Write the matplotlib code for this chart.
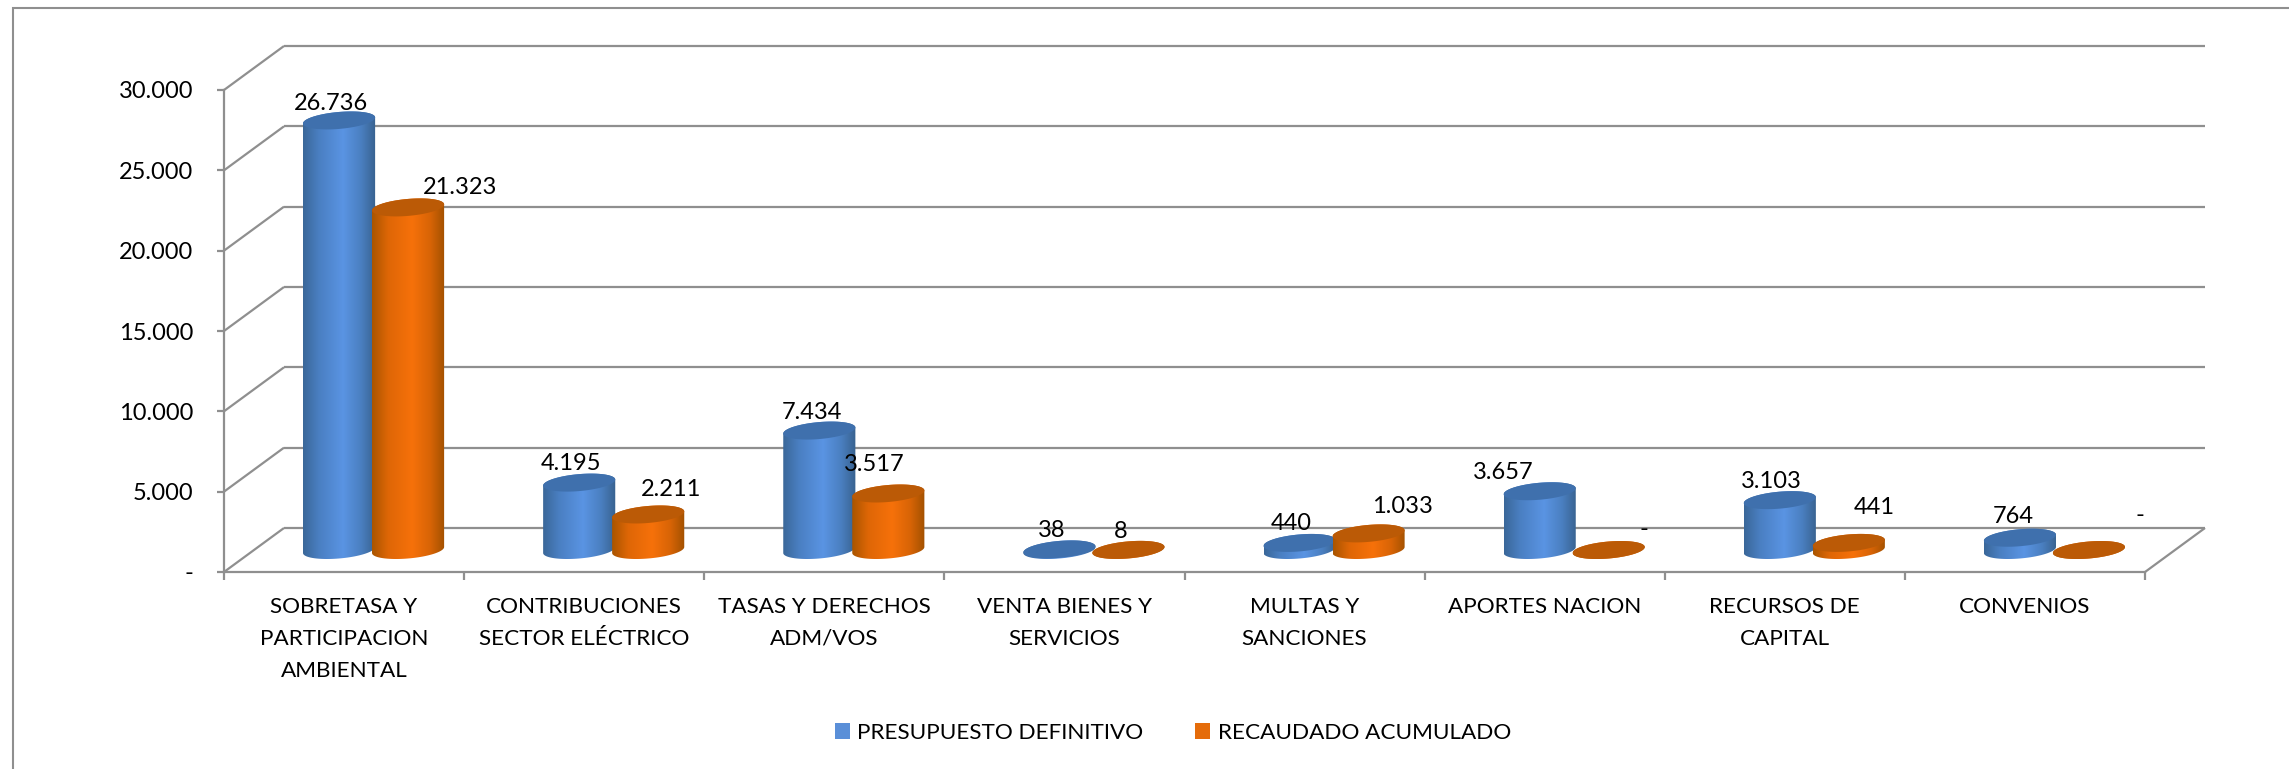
import numpy as np
import matplotlib
matplotlib.use("Agg")
import matplotlib.pyplot as plt
from matplotlib.colors import LinearSegmentedColormap
from matplotlib.patches import Patch, Polygon, Rectangle
from matplotlib.ticker import FuncFormatter

categories = [
    "SOBRETASA Y\nPARTICIPACION\nAMBIENTAL",
    "CONTRIBUCIONES\nSECTOR ELÉCTRICO",
    "TASAS Y DERECHOS\nADM/VOS",
    "VENTA BIENES Y\nSERVICIOS",
    "MULTAS Y\nSANCIONES",
    "APORTES NACION",
    "RECURSOS DE\nCAPITAL",
    "CONVENIOS",
]
presupuesto = [26736, 4195, 7434, 38, 440, 3657, 3103, 764]
recaudado = [21323, 2211, 3517, 8, 1033, 0, 441, 0]
y_ticks = [0, 5000, 10000, 15000, 20000, 25000, 30000]
series_names = ["PRESUPUESTO DEFINITIVO", "RECAUDADO ACUMULADO"]

# label displacement from the top of each cylinder, in pixels
offsets_a = [(-8, 17), (-8, 19), (-7, 18.5), (-8, 19), (-8, 19), (-36, 19), (-8, 19), (-7, 21)]
offsets_b = [(52, 20), (23, 24.5), (-14, 29), (-8, 18), (34, 27), (35, 21), (25, 35), (51, 35)]

W, H = 2289, 769
GRID = "#8F8F8F"
FONT = "Lato"
FS = 17.0
FS_CAT = 16.2
plt.rcParams["font.family"] = FONT

fig = plt.figure(figsize=(W / 100, H / 100), dpi=100, facecolor="white")
L, R, T, B = 224, 2145, 90, 572
ax = fig.add_axes([L / W, 1 - B / H, (R - L) / W, (B - T) / H])
ax.set_xlim(0, 8)
ax.set_ylim(0, 30000)
ax.set_autoscale_on(False)
ax.patch.set_alpha(0)

px_x = 8 / (R - L)       # data per pixel
px_y = 30000 / (B - T)
dep_x, dep_y = 60 * px_x, 44 * px_y

# outer frame
fig.add_artist(Rectangle((12.5 / W, -0.2), 1.2, 1.2 - 8 / H, transform=fig.transFigure,
                         fill=False, ec=GRID, lw=1.5))

# walls and floor
lk = dict(color=GRID, lw=1.6, clip_on=False, zorder=1, solid_capstyle="butt")
for v in y_ticks:
    ax.plot([dep_x, 8 + dep_x], [v + dep_y, v + dep_y], **lk)
    ax.plot([0, dep_x], [v, v + dep_y], **lk)
ax.plot([8, 8 + dep_x], [0, dep_y], **lk)

for s in ("top", "right"):
    ax.spines[s].set_visible(False)
for s in ("left", "bottom"):
    ax.spines[s].set_color(GRID)
    ax.spines[s].set_linewidth(1.6)
    ax.spines[s].set_zorder(1)

ax.set_yticks(y_ticks)
ax.yaxis.set_major_formatter(FuncFormatter(lambda v, _: "-" if v == 0 else f"{int(v):,}".replace(",", ".")))
ax.tick_params(axis="y", length=5, width=1.6, color=GRID, pad=17, labelsize=FS, labelcolor="black")
ax.set_xticks(np.arange(9))
ax.set_xticklabels([])
ax.set_xticks(np.arange(8) + 0.5, categories, minor=True, fontsize=FS_CAT, linespacing=1.74, color="black")
ax.tick_params(axis="x", which="major", length=5.5, width=1.6, color=GRID)
ax.tick_params(axis="x", which="minor", length=0, pad=18)

cmap_a = LinearSegmentedColormap.from_list("a", [(0, "#3A6799"), (.22, "#4A7FC2"), (.55, "#5A94E3"), (.8, "#4A7FC0"), (1, "#38628F")])
cmap_b = LinearSegmentedColormap.from_list("b", [(0, "#A95500"), (.22, "#DE6606"), (.55, "#F6710A"), (.8, "#D86406"), (1, "#A25100")])
TOP_A, TOP_B = "#3F70AD", "#BB5A06"
grad = np.linspace(0, 1, 256).reshape(1, -1)

a_px, s_px, h_px = 34.0, 12.0, 9.0
rad = np.hypot(a_px, s_px)
phi = np.arctan2(s_px, a_px)

def ellipse(cx, cy, t):
    return (cx + (a_px * np.cos(t) + s_px * np.sin(t)) * px_x,
            cy + h_px * np.sin(t) * px_y)

def cylinder(cx, value, cmap, top_col):
    cy = dep_y / 2
    t_low = np.linspace(phi + np.pi, phi + 2 * np.pi, 60)
    t_up = np.linspace(phi, phi + np.pi, 60)
    xb, yb = ellipse(cx, cy, t_low)
    xt, yt = ellipse(cx, cy + value, t_up)
    body = Polygon(np.c_[np.r_[xb, xt], np.r_[yb, yt]], closed=True, transform=ax.transData,
                   fc="none", ec="none")
    ax.add_patch(body)
    body.set_zorder(3)
    im = ax.imshow(grad, cmap=cmap, aspect="auto", zorder=3,
                   extent=(cx - rad * px_x, cx + rad * px_x, yb.min(), yt.max()))
    im.set_clip_path(body)
    tt = np.linspace(0, 2 * np.pi, 120)
    xe, ye = ellipse(cx, cy + value, tt)
    ax.fill(xe, ye, color=top_col, lw=0, zorder=3, clip_on=False)

def fmt(v):
    return "-" if v == 0 else f"{v:,}".replace(",", ".")

def put_label(cx, value, off):
    ax.annotate(fmt(value), xy=(cx, value + dep_y / 2), xycoords="data",
                xytext=(off[0] * .72, off[1] * .72), textcoords="offset points",
                ha="center", va="center", fontsize=FS, color="black", zorder=6,
                annotation_clip=False)

for i, (pa, rb) in enumerate(zip(presupuesto, recaudado)):
    ca = i + 0.5 - 5 * px_x
    cb = i + 0.5 + 64 * px_x
    cylinder(ca, pa, cmap_a, TOP_A)
    cylinder(cb, rb, cmap_b, TOP_B)
    put_label(ca, pa, offsets_a[i])
    put_label(cb, rb, offsets_b[i])

ax.set_xlim(0, 8)
ax.set_ylim(0, 30000)

handles = [Patch(fc="#5A8FD8", ec="none"), Patch(fc="#E56C0A", ec="none")]
fig.legend(handles, series_names, loc="center", bbox_to_anchor=(1173 / W, 1 - 733 / H),
           ncol=2, frameon=False, fontsize=16.2, handlelength=15 / 22.5, handleheight=15 / 22.5,
           handletextpad=.34, columnspacing=2.3, labelcolor="black")

fig.savefig("out.png", dpi=100, facecolor="white")
